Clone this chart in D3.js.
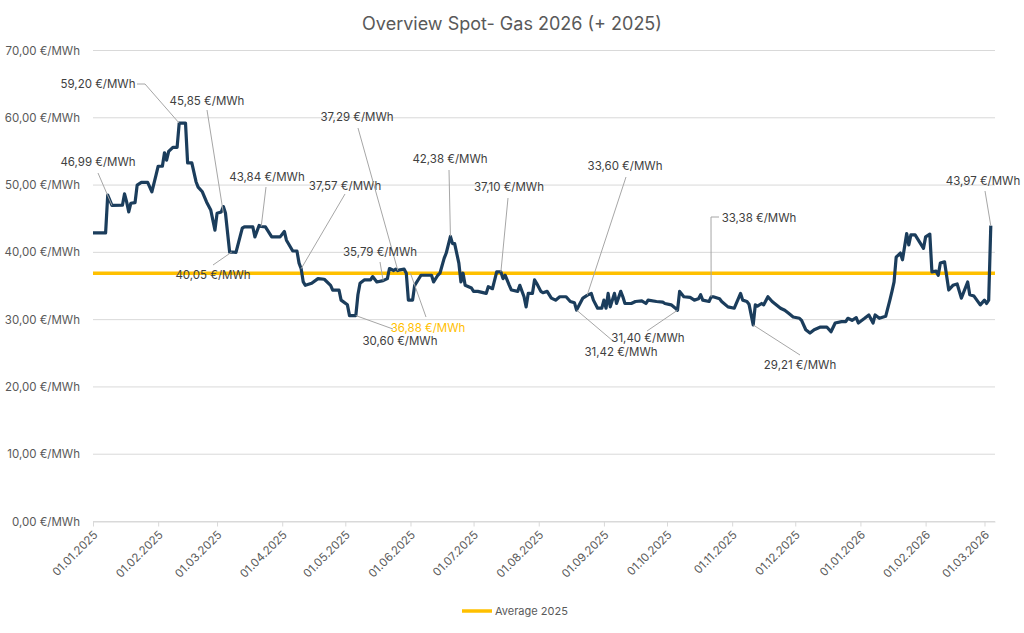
<!DOCTYPE html>
<html>
<head>
<meta charset="utf-8">
<script src="https://cdn.jsdelivr.net/npm/d3@7"></script>
<style>
  html, body { margin: 0; padding: 0; background: #fff; overflow: hidden; }
  svg { display: block; }
  text { font-family: Inter, "Noto Sans", sans-serif; }
</style>
</head>
<body>
<svg id="chart" width="1024" height="633"></svg>
<script>
//------- Data
var dates = [
  "2025-01-01","2025-01-07","2025-01-08","2025-01-10","2025-01-15","2025-01-16","2025-01-17","2025-01-18","2025-01-19","2025-01-21",
  "2025-01-22","2025-01-24","2025-01-27","2025-01-29","2025-01-31","2025-02-01","2025-02-03","2025-02-04","2025-02-05","2025-02-06",
  "2025-02-08","2025-02-10","2025-02-11","2025-02-14","2025-02-15","2025-02-17","2025-02-19","2025-02-20","2025-02-22","2025-02-24",
  "2025-02-26","2025-02-28","2025-03-01","2025-03-03","2025-03-04","2025-03-05","2025-03-07","2025-03-08","2025-03-10","2025-03-13",
  "2025-03-14","2025-03-18","2025-03-19","2025-03-21","2025-03-22","2025-03-24","2025-03-27","2025-03-31","2025-04-02","2025-04-03",
  "2025-04-06","2025-04-08","2025-04-09","2025-04-10","2025-04-11","2025-04-12","2025-04-15","2025-04-18","2025-04-21","2025-04-24",
  "2025-04-25","2025-04-28","2025-04-29","2025-05-02","2025-05-03","2025-05-06","2025-05-07","2025-05-08","2025-05-10","2025-05-13",
  "2025-05-14","2025-05-16","2025-05-19","2025-05-21","2025-05-22","2025-05-24","2025-05-25","2025-05-26","2025-05-27","2025-05-29",
  "2025-05-30","2025-05-31","2025-06-02","2025-06-03","2025-06-06","2025-06-11","2025-06-12","2025-06-14","2025-06-15","2025-06-17",
  "2025-06-18","2025-06-20","2025-06-21","2025-06-22","2025-06-24","2025-06-25","2025-06-26","2025-06-27","2025-06-30","2025-07-01",
  "2025-07-03","2025-07-07","2025-07-08","2025-07-10","2025-07-12","2025-07-14","2025-07-15","2025-07-16","2025-07-18","2025-07-19",
  "2025-07-22","2025-07-23","2025-07-25","2025-07-26","2025-07-27","2025-07-29","2025-07-30","2025-07-31","2025-08-02","2025-08-03",
  "2025-08-05","2025-08-07","2025-08-09","2025-08-11","2025-08-14","2025-08-16","2025-08-18","2025-08-19","2025-08-22","2025-08-24",
  "2025-08-26","2025-08-27","2025-08-29","2025-08-31","2025-09-01","2025-09-02","2025-09-03","2025-09-04","2025-09-06","2025-09-07",
  "2025-09-09","2025-09-10","2025-09-11","2025-09-14","2025-09-16","2025-09-19","2025-09-21","2025-09-22","2025-09-26","2025-09-29",
  "2025-09-30","2025-10-03","2025-10-05","2025-10-06","2025-10-07","2025-10-09","2025-10-12","2025-10-14","2025-10-16","2025-10-17",
  "2025-10-18","2025-10-21","2025-10-22","2025-10-23","2025-10-26","2025-10-27","2025-10-30","2025-11-02","2025-11-05","2025-11-06",
  "2025-11-08","2025-11-09","2025-11-11","2025-11-12","2025-11-13","2025-11-15","2025-11-16","2025-11-18","2025-11-20","2025-11-24",
  "2025-11-26","2025-11-28","2025-11-30","2025-12-03","2025-12-04","2025-12-06","2025-12-08","2025-12-10","2025-12-13","2025-12-16",
  "2025-12-18","2025-12-20","2025-12-23","2025-12-25","2025-12-26","2025-12-28","2025-12-30","2025-12-31","2026-01-03","2026-01-05",
  "2026-01-07","2026-01-08","2026-01-10","2026-01-13","2026-01-15","2026-01-16","2026-01-17","2026-01-18","2026-01-20","2026-01-21",
  "2026-01-23","2026-01-24","2026-01-25","2026-01-27","2026-01-29","2026-01-31","2026-02-01","2026-02-03","2026-02-04","2026-02-06",
  "2026-02-07","2026-02-08","2026-02-10","2026-02-12","2026-02-14","2026-02-16","2026-02-18","2026-02-21","2026-02-22","2026-02-24",
  "2026-02-27","2026-03-01","2026-03-02","2026-03-03","2026-03-04"
];
var prices = [
  42.9,42.9,48.5,46.99,47.0,48.7,47.5,46.0,47.3,47.4,
  50.0,50.4,50.4,49.0,51.5,52.8,52.8,54.8,53.7,55.0,
  55.6,55.6,59.2,59.2,53.3,53.3,50.5,49.7,49.0,47.5,
  46.3,43.3,45.8,46.0,46.8,45.85,40.0,40.05,40.0,43.6,
  43.8,43.8,42.3,44.0,43.84,43.8,42.3,42.3,43.1,41.8,
  40.2,40.2,38.4,37.57,35.6,35.1,35.4,36.1,36.0,35.1,
  34.4,34.4,32.9,32.2,30.6,30.6,33.7,35.4,35.9,35.9,
  36.4,35.6,35.79,36.1,37.6,37.3,37.5,37.29,37.4,37.5,
  36.9,32.9,32.9,35.1,36.6,36.6,35.6,36.6,36.9,39.1,
  39.9,42.38,41.3,41.3,38.4,35.6,36.9,35.1,34.7,34.2,
  34.2,33.9,34.9,34.6,37.1,37.1,36.1,36.6,35.1,34.4,
  34.2,35.1,33.4,31.9,33.9,33.9,35.9,35.4,34.2,34.0,
  34.2,33.2,32.9,33.4,33.4,32.7,32.5,31.42,33.2,33.6,
  33.9,32.9,31.7,31.7,32.9,31.7,33.9,31.9,33.9,32.4,
  34.2,33.4,32.4,32.4,32.7,32.8,32.4,32.9,32.7,32.6,
  32.4,32.2,31.7,31.4,34.2,33.4,33.3,32.9,33.1,33.7,
  32.9,32.7,33.38,33.4,33.1,32.7,31.9,31.7,33.9,32.9,
  32.7,32.3,29.21,32.2,32.0,32.4,32.2,33.4,32.7,31.7,
  31.4,30.9,30.4,30.2,29.9,28.5,28.0,28.5,28.9,28.9,
  28.2,29.5,29.7,29.7,30.2,29.9,30.3,29.5,30.2,30.7,
  29.5,30.7,30.2,30.5,32.9,34.2,35.6,39.3,39.9,38.9,
  42.8,41.1,42.6,42.6,41.6,40.6,42.3,42.7,37.1,37.2,
  36.6,38.4,38.6,34.4,35.1,35.3,33.2,35.6,33.7,33.5,
  32.2,32.9,32.4,32.9,43.97
];
var average2025 = 36.88;
var yTicks = [0, 10, 20, 30, 40, 50, 60, 70];

// annotated points
var annoDates  = ["2025-01-10","2025-02-11","2025-03-04","2025-03-22","2025-03-08","2025-04-10","2025-05-26","2025-05-19","2025-05-06",
                  "2025-06-01","2025-06-20","2025-07-14","2025-08-24","2025-08-19","2025-10-06","2025-10-22","2025-11-11","2026-03-04"];
var annoValues = [46.99,59.20,45.85,43.84,40.05,37.57,37.29,35.79,30.60,36.88,42.38,37.10,33.60,31.42,31.40,33.38,29.21,43.97];

// label placement: text centre (tx,ty), leader start (lx,ly), optional elbow (ex,ey)
var labelLayout = [
  {tx:98, ty:162, lx:98, ly:173},
  {tx:98, ty:84, lx:137, ly:84, ex:145, ey:84},
  {tx:207, ty:101, lx:207, ly:110},
  {tx:267, ty:177, lx:266, ly:187},
  {tx:213, ty:275, lx:213, ly:265},
  {tx:345, ty:186, lx:345, ly:194},
  {tx:357, ty:117, lx:358, ly:128},
  {tx:380, ty:252, lx:380, ly:262},
  {tx:400, ty:341, lx:393, ly:329},
  {tx:428, ty:328, lx:426, ly:317, avg:true},
  {tx:450, ty:159, lx:449, ly:170},
  {tx:509, ty:187, lx:508, ly:198},
  {tx:625, ty:166, lx:626, ly:177},
  {tx:621, ty:352, lx:613, ly:341},
  {tx:648, ty:338, lx:647, ly:331},
  {tx:759, ty:218, lx:719, ly:217, ex:711, ey:217},
  {tx:800, ty:365, lx:800, ly:355},
  {tx:983, ty:181, lx:985, ly:191}
];

var parseDate = d3.utcParse("%Y-%m-%d");
var fmtEuro = function(v){ return v.toFixed(2).replace(".", ",") + " €/MWh"; };

var svg = d3.select("#chart");

var x = d3.scaleUtc()
  .domain([parseDate("2025-01-01"), parseDate("2026-03-06")])
  .range([93, 995]);
var y = d3.scaleLinear().domain([0, 70]).range([521.5, 50.5]);

// title
svg.append("text")
  .attr("x", 512).attr("y", 30)
  .attr("text-anchor", "middle")
  .attr("font-size", 18)
  .attr("fill", "#595959")
  .text("Overview Spot- Gas 2026 (+ 2025)");

// gridlines + y labels
var yAxis = svg.append("g");
yTicks.forEach(function(t){
  yAxis.append("line")
    .attr("x1", 93).attr("x2", 995)
    .attr("y1", y(t)).attr("y2", y(t))
    .attr("stroke", "#d9d9d9").attr("stroke-width", 1);
  yAxis.append("text")
    .attr("x", 80).attr("y", y(t))
    .attr("text-anchor", "end")
    .attr("dominant-baseline", "central")
    .attr("font-size", 11.5)
    .attr("fill", "#595959")
    .text(fmtEuro(t));
});

// x axis (month ticks)
var xAxis = d3.axisBottom(x)
  .ticks(d3.utcMonth.every(1))
  .tickFormat(d3.utcFormat("%d.%m.%Y"))
  .tickSize(5)
  .tickSizeOuter(0);
var gx = svg.append("g")
  .attr("transform", "translate(0," + y(0) + ")")
  .call(xAxis);
gx.select(".domain").attr("stroke", "#d9d9d9");
gx.selectAll(".tick line").attr("stroke", "#d9d9d9");
gx.selectAll(".tick text")
  .attr("font-size", 11.5)
  .attr("font-family", "Inter, 'Noto Sans', sans-serif")
  .attr("fill", "#595959")
  .attr("text-anchor", "end")
  .attr("dy", null)
  .attr("y", 0)
  .attr("transform", "translate(5,14) rotate(-45)");

// average line
svg.append("line")
  .attr("x1", 93).attr("x2", 995)
  .attr("y1", y(average2025)).attr("y2", y(average2025))
  .attr("stroke", "#ffc000").attr("stroke-width", 3.5);

// price line
var series = dates.map(function(d, i){ return {date: parseDate(d), value: prices[i]}; });
var line = d3.line()
  .x(function(d){ return x(d.date); })
  .y(function(d){ return y(d.value); });
svg.append("path")
  .datum(series)
  .attr("d", line)
  .attr("fill", "none")
  .attr("stroke", "#1b3d5c")
  .attr("stroke-width", 3.2)
  .attr("stroke-linejoin", "round");

// annotations
var anno = svg.append("g");
annoDates.forEach(function(d, i){
  var L = labelLayout[i];
  var ax = x(parseDate(d)), ay = y(annoValues[i]);
  var pts = [[L.lx, L.ly]];
  if (L.ex !== undefined) pts.push([L.ex, L.ey]);
  pts.push([ax, ay]);
  anno.append("path")
    .attr("d", d3.line()(pts))
    .attr("fill", "none")
    .attr("stroke", "#a6a6a6")
    .attr("stroke-width", 1);
  anno.append("text")
    .attr("x", L.tx).attr("y", L.ty)
    .attr("text-anchor", "middle")
    .attr("dominant-baseline", "central")
    .attr("font-size", 11.5)
    .attr("fill", L.avg ? "#ffc000" : "#404040")
    .text(fmtEuro(annoValues[i]));
});

// legend
svg.append("line")
  .attr("x1", 462).attr("x2", 492).attr("y1", 611).attr("y2", 611)
  .attr("stroke", "#ffc000").attr("stroke-width", 3.5);
svg.append("text")
  .attr("x", 495).attr("y", 611)
  .attr("dominant-baseline", "central")
  .attr("font-size", 11)
  .attr("fill", "#595959")
  .text("Average 2025");
</script>
</body>
</html>
